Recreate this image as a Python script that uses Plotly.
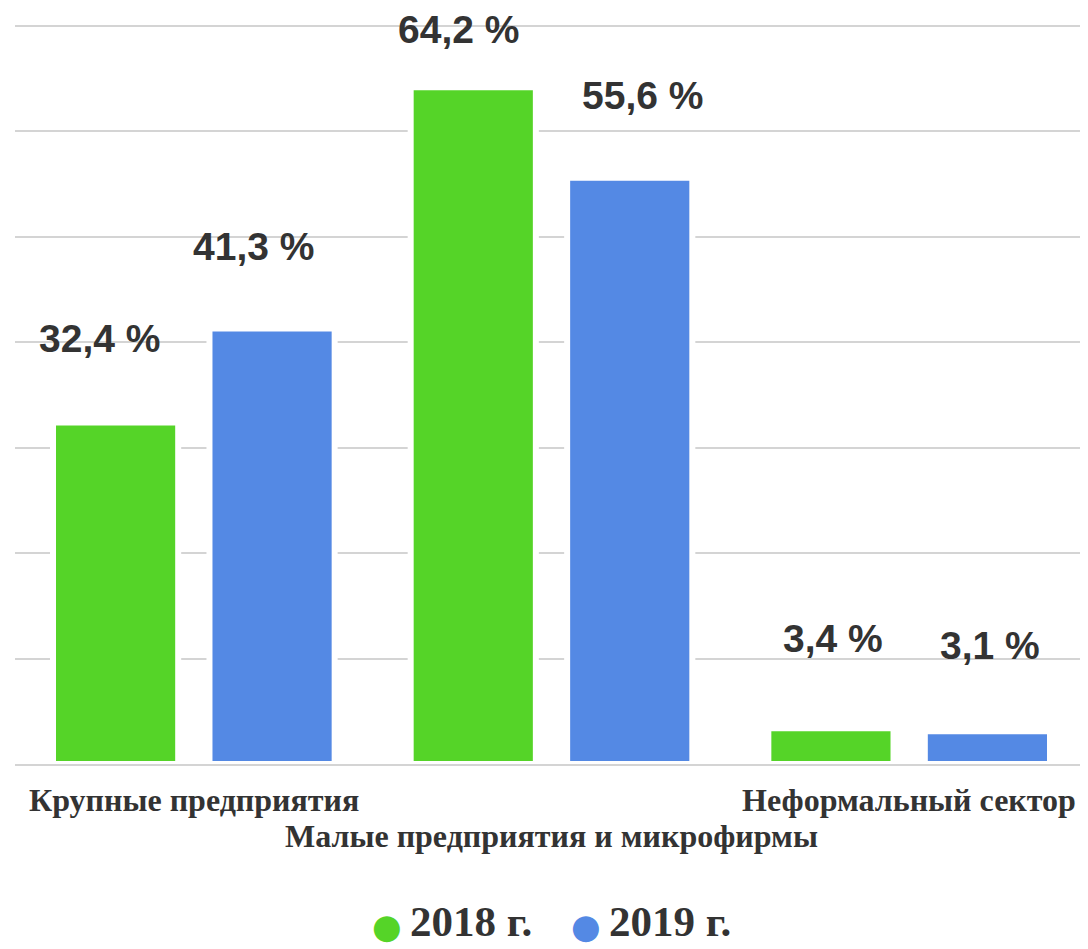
import plotly.graph_objects as go

categories = ["Крупные предприятия", "Малые предприятия и микрофирмы", "Неформальный сектор"]
series_names = ["2018 г.", "2019 г."]
values_2018 = [32.4, 64.2, 3.4]
values_2019 = [41.3, 55.6, 3.1]
labels_2018 = ["32,4 %", "64,2 %", "3,4 %"]
labels_2019 = ["41,3 %", "55,6 %", "3,1 %"]

colors = ["#55d428", "#5489e4"]
text_color = "#333333"

# label offsets (style)
yshift_2018 = [84, 58, 90]
yshift_2019 = [82, 82, 86]
xshift_2018 = [-16, -15, 2]
xshift_2019 = [-18, 13, 3]

# page body has an 8px margin; compensate so the plot lands where the reference has it
OFF = 8
W, H = 1088 - OFF, 949 - OFF
ML, MR, MT, MB = 15 - OFF, 0, 25 - OFF, 185
PW, PH = W - ML - MR, H - MT - MB

fig = go.Figure()
for name, vals, col in zip(series_names, [values_2018, values_2019], colors):
    fig.add_trace(go.Bar(
        x=categories, y=vals, name=name, showlegend=False,
        marker=dict(color=col, line=dict(color="white", width=6)),
        hoverinfo="skip",
    ))

annotations = []
for vals, labs, ys, xs, off in [(values_2018, labels_2018, yshift_2018, xshift_2018, -0.5),
                                 (values_2019, labels_2019, yshift_2019, xshift_2019, 0.5)]:
    for i, (v, lab) in enumerate(zip(vals, labs)):
        annotations.append(dict(
            x=i, y=v, xref="x", yref="y", text=lab, showarrow=False,
            xshift=off * 156 + xs[i], yshift=ys[i],
            font=dict(family="Liberation Sans, Arial", size=39, color=text_color, weight="bold"),
        ))
# category labels (staggered)
cat_shift = [-36, -72, -36]
for i, c in enumerate(categories):
    annotations.append(dict(
        x=i, y=0, xref="x", yref="y", text="<b>" + c + "</b>", showarrow=False,
        yshift=cat_shift[i], yanchor="middle",
        font=dict(family="Liberation Serif, Times New Roman", size=32, color=text_color),
    ))

# custom legend (large circles), positions in page pixels
legend_circle_px = [387, 586]
legend_text_px = [409, 608]
legend_y_px = 922
for name, col, cx, tx in zip(series_names, colors, legend_circle_px, legend_text_px):
    annotations.append(dict(
        x=(cx - OFF - ML) / PW, y=(MT + PH - (legend_y_px + 4 - OFF)) / PH, xref="paper", yref="paper",
        text="●", showarrow=False, xanchor="center", yanchor="middle", borderpad=0,
        font=dict(family="DejaVu Sans", size=34, color=col),
    ))
    annotations.append(dict(
        x=(tx - OFF - ML) / PW, y=(MT + PH - (legend_y_px - OFF)) / PH, xref="paper", yref="paper",
        text="<b>" + name + "</b>", showarrow=False, xanchor="left", yanchor="middle", borderpad=0,
        font=dict(family="Liberation Serif, Times New Roman", size=43, color=text_color),
    ))

fig.update_layout(
    width=W, height=H,
    margin=dict(l=ML, r=MR, t=MT, b=MB, autoexpand=False),
    paper_bgcolor="white", plot_bgcolor="white",
    barmode="group", bargap=0.125, bargroupgap=0.2,
    annotations=annotations,
    showlegend=False,
    xaxis=dict(
        type="category", range=[-0.5, 2.5], showticklabels=False, showgrid=False,
        showline=True, linecolor="#d4d4d4", linewidth=2, layer="above traces",
        zeroline=False, fixedrange=True,
    ),
    yaxis=dict(
        range=[0, 70.1], dtick=10, showticklabels=False, showgrid=True,
        gridcolor="#d4d4d4", gridwidth=2, zeroline=False, showline=False,
    ),
)

fig.write_html("out.html")
